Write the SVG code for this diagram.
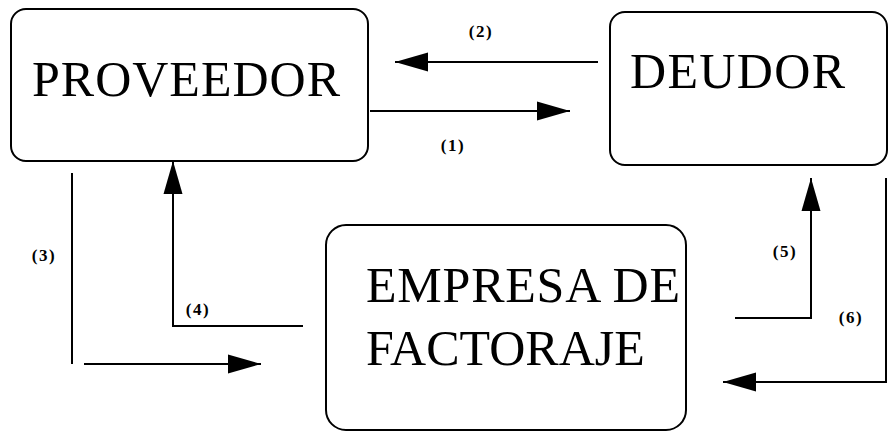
<svg xmlns="http://www.w3.org/2000/svg" width="892" height="432" viewBox="0 0 892 432">
  <style>
    .box { fill: #fff; stroke: #000; stroke-width: 2; }
    .wire { fill: none; stroke: #000; stroke-width: 2; }
  </style>
  <defs>
    <marker id="head" markerUnits="userSpaceOnUse" markerWidth="34" markerHeight="22" viewBox="0 0 34 22" refX="33" refY="11" orient="auto">
      <path d="M0,1.5 L33,11 L0,20.5 Z" fill="#000"/>
    </marker>
  </defs>
  <rect width="892" height="432" fill="#fff"/>

  <g id="proveedor">
    <rect class="box" x="11" y="9" width="357" height="152" rx="15"/>
    <text font-family="Liberation Serif, serif" font-size="50" fill="#000" x="32" y="96" textLength="308">PROVEEDOR</text>
  </g>

  <g id="deudor">
    <rect class="box" x="610" y="12" width="277" height="153" rx="15"/>
    <text font-family="Liberation Serif, serif" font-size="50" fill="#000" x="630" y="88" textLength="215">DEUDOR</text>
  </g>

  <g id="factoraje">
    <rect class="box" x="326" y="225" width="360" height="205" rx="20"/>
    <text font-family="Liberation Serif, serif" font-size="50" fill="#000" x="366" y="302" textLength="314">EMPRESA DE</text>
    <text font-family="Liberation Serif, serif" font-size="50" fill="#000" x="366" y="365">FACTORAJE</text>
  </g>

  <g id="connectors">
    <!-- (1) proveedor to deudor -->
    <path class="wire" d="M370,111 H570" marker-end="url(#head)"/>
    <!-- (2) deudor to proveedor -->
    <path class="wire" d="M598,62 H395" marker-end="url(#head)"/>
    <!-- (3) proveedor to factoraje, drawn as two strokes -->
    <path class="wire" d="M72,173 V364"/>
    <path class="wire" d="M84,364 H261" marker-end="url(#head)"/>
    <!-- (4) factoraje to proveedor -->
    <path class="wire" d="M303,326 H173 V161" marker-end="url(#head)"/>
    <!-- (5) factoraje to deudor -->
    <path class="wire" d="M735,318 H811 V178" marker-end="url(#head)"/>
    <!-- (6) deudor to factoraje -->
    <path class="wire" d="M886,178 V382 H723" marker-end="url(#head)"/>

    <g font-family="Liberation Serif, serif" font-size="17" font-weight="bold" letter-spacing="1.5" fill="#000" text-anchor="middle">
      <text x="453" y="151">(1)</text>
      <text x="481" y="37">(2)</text>
      <text x="44" y="261">(3)</text>
      <text x="198" y="315">(4)</text>
      <text x="785" y="257">(5)</text>
      <text x="851" y="323">(6)</text>
    </g>
  </g>
</svg>
